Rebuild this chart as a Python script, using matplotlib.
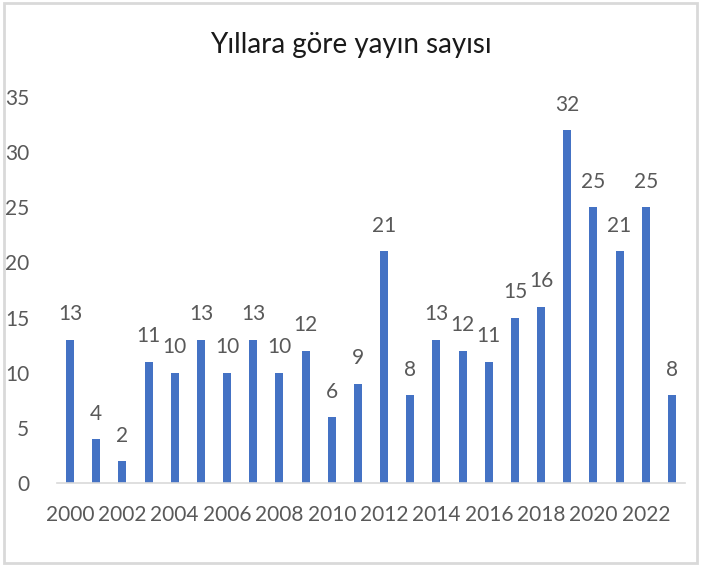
import numpy as np
import matplotlib.pyplot as plt
from matplotlib.patches import Rectangle

years = list(range(2000, 2024))
counts = [13, 4, 2, 11, 10, 13, 10, 13, 10, 12, 6, 9, 21, 8, 13, 12, 11, 15, 16, 32, 25, 21, 25, 8]
yticks = [0, 5, 10, 15, 20, 25, 30, 35]

bar_color = '#4472C4'
text_color = '#595959'

plt.rcParams['font.family'] = ['Lato', 'DejaVu Sans']

fig = plt.figure(figsize=(7.01, 5.65), dpi=100)
ax = fig.add_axes([0.0813, 0.1451, 0.8959, 0.6832])

x = np.arange(len(years))
bars = ax.bar(x, counts, width=0.31, color=bar_color, zorder=2)

# data labels above bars
for xi, v in zip(x, counts):
    ax.annotate(str(v), (xi, v), xytext=(0, 11), textcoords='offset points',
                ha='center', va='bottom', fontsize=15, color=text_color)

ax.set_xlim(-0.5, len(years) - 0.5)
ax.set_ylim(0, 35)
ax.set_yticks(yticks)
ax.set_yticklabels([str(t) for t in yticks], fontsize=15, color=text_color)
ax.set_xticks(x[::2])
ax.set_xticklabels([str(y) for y in years[::2]], fontsize=15, color=text_color)
ax.tick_params(axis='both', length=0)
ax.tick_params(axis='y', pad=20)
ax.tick_params(axis='x', pad=16)

for s in ['top', 'right', 'left']:
    ax.spines[s].set_visible(False)
ax.spines['bottom'].set_color('#D9D9D9')
ax.spines['bottom'].set_linewidth(1.2)

fig.text(0.5, 0.92, 'Yıllara göre yayın sayısı', ha='center', va='center',
         fontsize=20, color='#1a1a1a')

# chart border
fig.patches.append(Rectangle((0.005, 0.004), 0.99, 0.99, transform=fig.transFigure,
                             fill=False, edgecolor='#D9D9D9', linewidth=2))

fig.savefig('out.png', dpi=100)
